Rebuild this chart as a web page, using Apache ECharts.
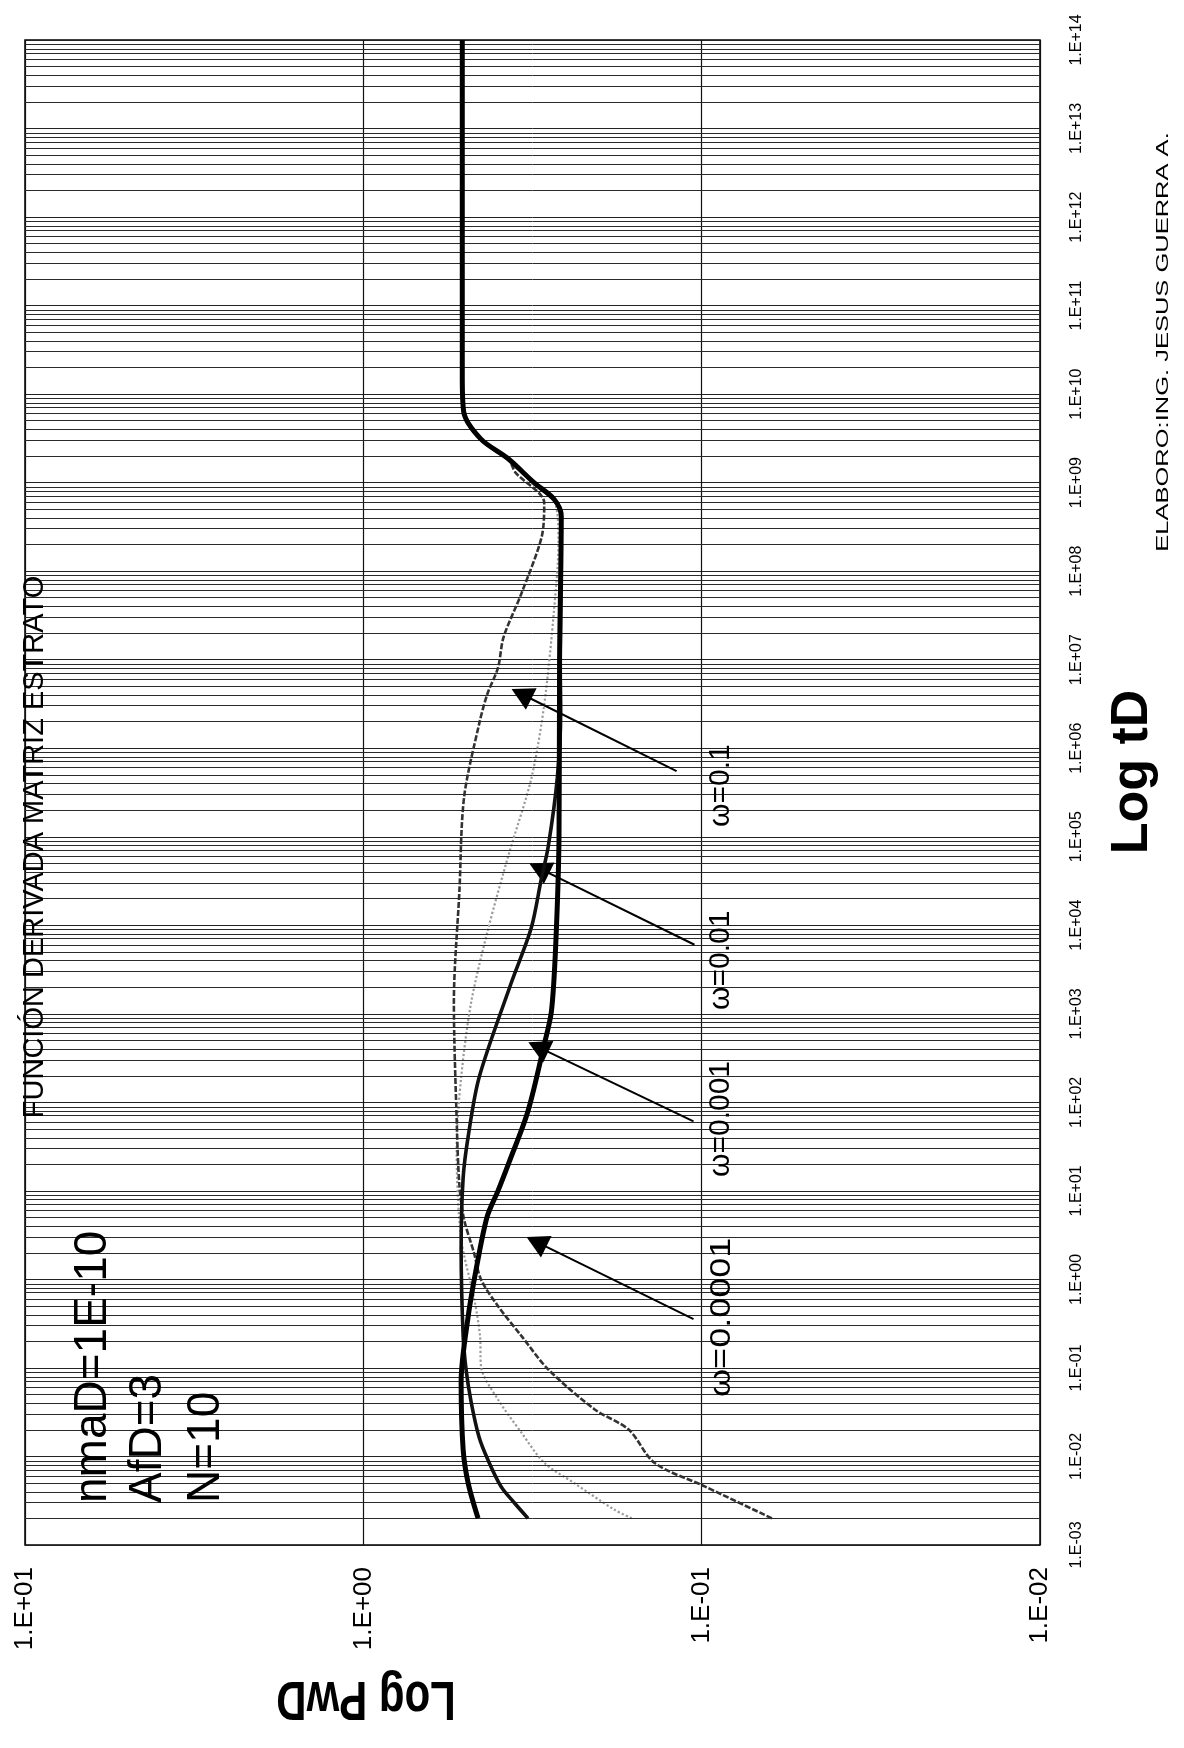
<!DOCTYPE html>
<html>
<head>
<meta charset="utf-8">
<script src="https://cdn.jsdelivr.net/npm/echarts@6/dist/echarts.min.js"></script>
<style>
html,body{margin:0;padding:0;background:#fff;}
#chart{width:1184px;height:1748px;}
</style>
</head>
<body>
<div id="chart"></div>
<script>
// ---- axis ranges (exponents) and tick labels ----
const PWD_MIN_EXP = -2, PWD_MAX_EXP = 1;
const TD_MIN_EXP = -3, TD_MAX_EXP = 14;
const pwdTickLabels = ['1.E-02', '1.E-01', '1.E+00', '1.E+01'];
const tdTickLabels = ['1.E-03', '1.E-02', '1.E-01', '1.E+00', '1.E+01', '1.E+02', '1.E+03', '1.E+04', '1.E+05',
  '1.E+06', '1.E+07', '1.E+08', '1.E+09', '1.E+10', '1.E+11', '1.E+12', '1.E+13', '1.E+14'];

// ---- curves: tD and PwD (derivative) values ----
const w0001_tD  = [0.002, 0.005, 0.012, 0.07, 0.38, 1.7, 5.2, 10, 21, 80, 450, 1070, 6000, 1e5, 1e7, 4.2e8, 6.5e8, 1e9, 1.86e9, 3.1e9, 6.3e9, 1.6e10, 1e14];
const w0001_PwD = [0.458, 0.49, 0.507, 0.514, 0.49, 0.458, 0.43, 0.40, 0.371, 0.326, 0.292, 0.278, 0.27, 0.264, 0.263, 0.26, 0.273, 0.313, 0.373, 0.449, 0.505, 0.51, 0.51];

const w001_tD  = [0.002, 0.003, 0.0046, 0.0091, 0.0166, 0.041, 0.096, 0.23, 2.2, 14, 41, 190, 2200, 9300, 33000, 78000, 4.7e5, 2.6e6, 1e7, 4.2e8, 6.5e8, 1e9, 1.86e9, 3.1e9, 6.3e9, 1.6e10, 1e14];
const w001_PwD = [0.326, 0.358, 0.392, 0.428, 0.455, 0.48, 0.497, 0.507, 0.514, 0.507, 0.49, 0.455, 0.366, 0.319, 0.298, 0.284, 0.267, 0.261, 0.262, 0.26, 0.273, 0.313, 0.373, 0.449, 0.505, 0.51, 0.51];

const w01_tD  = [0.002, 0.0025, 0.005, 0.0085, 0.0186, 0.044, 0.104, 0.23, 0.6, 2.9, 30, 190, 1350, 9300, 65000, 4.5e5, 3.1e6, 3.7e7, 2.1e8, 6.5e8, 1e9, 1.86e9, 3.1e9, 6.3e9, 1.6e10, 1e14];
const w01_PwD = [0.161, 0.181, 0.238, 0.292, 0.341, 0.40, 0.449, 0.452, 0.47, 0.514, 0.53, 0.514, 0.48, 0.427, 0.371, 0.319, 0.292, 0.273, 0.265, 0.273, 0.313, 0.373, 0.449, 0.505, 0.51, 0.51];

const w1_tD  = [0.002, 0.0046, 0.0085, 0.02, 0.034, 0.096, 0.23, 0.5, 1, 2.0, 4.8, 11.5, 66, 1350, 24500, 2.75e5, 1.86e6, 4.1e6, 8.1e6, 1.8e7, 5.6e7, 2.45e8, 5.9e8, 1.3e9, 1.86e9, 3.1e9, 6.3e9, 1.6e10, 1e14];
const w1_PwD = [0.062, 0.098, 0.138, 0.164, 0.207, 0.284, 0.341, 0.40, 0.449, 0.471, 0.504, 0.52, 0.53, 0.54, 0.52, 0.504, 0.455, 0.43, 0.40, 0.385, 0.341, 0.297, 0.292, 0.355, 0.373, 0.449, 0.505, 0.51, 0.51];

// ---- annotation arrows: [PwD, tD] of tail and head ----
const arrowTails = [[0.1057, 0.356], [0.1057, 61], [0.105, 6030], [0.1186, 5.5e5]];
const arrowHeads = [[0.308, 2.65], [0.304, 421], [0.302, 43900], [0.341, 4.1e6]];
const omegaLabels = ['\u03c9=0.0001', '\u03c9=0.001', '\u03c9=0.01', '\u03c9=0.1'];

const FONT = "'Liberation Sans', Arial, Helvetica, sans-serif";

const lg = Math.log10;
function toPts(td, pwd) { return td.map((t, i) => [lg(pwd[i]), lg(t)]); }

// minor log grid positions along tD
const minorLines = [];
for (let n = TD_MIN_EXP; n < TD_MAX_EXP; n++) {
  for (let k = 2; k <= 9; k++) minorLines.push({ yAxis: n + lg(k) });
}
const arrowData = arrowTails.map((t, i) => [
  { coord: [lg(t[0]), lg(t[1])] },
  { coord: [lg(arrowHeads[i][0]), lg(arrowHeads[i][1])] }
]);

const chart = echarts.init(document.getElementById('chart'), null, { renderer: 'canvas' });

function rotText(x, y, text, size, opts) {
  opts = opts || {};
  return {
    type: 'text', x: x, y: y, rotation: opts.rotation != null ? opts.rotation : Math.PI / 2,
    scaleX: opts.scaleX || 1, scaleY: opts.scaleY || 1, z: 100,
    style: {
      text: text, fill: '#000',
      font: (opts.bold ? 'bold ' : '') + size + 'px ' + FONT,
      textAlign: opts.align || 'center', textVerticalAlign: 'middle',
      align: opts.align || 'center', verticalAlign: 'middle'
    }
  };
}

const graphics = [
  rotText(35, 847, 'FUNCIÓN DERIVADA MATRIZ ESTRATO', 29),
  rotText(93, 1503, 'nmaD=1E-10', 46, { align: 'left' }),
  rotText(148, 1503, 'AfD=3', 46, { align: 'left' }),
  rotText(206, 1503, 'N=10', 46, { align: 'left' }),
  rotText(722, 1397, omegaLabels[0], 30, { align: 'left', scaleX: 1.2 }),
  rotText(721, 1177, omegaLabels[1], 30, { align: 'left' }),
  rotText(721, 1010, omegaLabels[2], 30, { align: 'left' }),
  rotText(721, 827, omegaLabels[3], 30, { align: 'left' }),
  rotText(366, 1697, 'Log PwD', 42, { bold: true, rotation: Math.PI, scaleY: 1.3 }),
  rotText(1133, 772, 'Log tD', 52, { bold: true }),
  rotText(1163, 342, 'ELABORO:ING. JESUS GUERRA A.', 17, { scaleX: 1.5 })
];

const option = {
  animation: false,
  backgroundColor: '#fff',
  grid: { left: 25, right: 144, top: 40, bottom: 203, show: true, borderColor: '#000', borderWidth: 1.5, backgroundColor: 'transparent' },
  xAxis: {
    type: 'value', min: PWD_MIN_EXP, max: PWD_MAX_EXP, interval: 1, inverse: true, position: 'bottom',
    axisLine: { show: false }, axisTick: { show: false },
    splitLine: { show: true, lineStyle: { color: '#111', width: 1.2 } },
    axisLabel: {
      rotate: 90, margin: 22, fontSize: 26, color: '#000', fontFamily: FONT,
      formatter: v => pwdTickLabels[Math.round(v) - PWD_MIN_EXP]
    }
  },
  yAxis: {
    type: 'value', min: TD_MIN_EXP, max: TD_MAX_EXP, interval: 1, position: 'right',
    axisLine: { show: false }, axisTick: { show: false },
    splitLine: { show: true, lineStyle: { color: '#222', width: 1 } },
    axisLabel: {
      rotate: 90, margin: 29, fontSize: 16, color: '#000', fontFamily: FONT,
      formatter: v => tdTickLabels[Math.round(v) - TD_MIN_EXP]
    }
  },
  series: [
    {
      name: '\u03c9=0.01', type: 'line', data: toPts(w01_tD, w01_PwD), smooth: 0.3, showSymbol: false, z: 3,
      lineStyle: { color: '#9a9a9a', width: 2.2, type: 'dotted' },
      markLine: { silent: true, symbol: 'none', animation: false, label: { show: false },
        lineStyle: { color: '#2a2a2a', width: 1, type: 'solid' }, data: minorLines }
    },
    {
      name: '\u03c9=0.1', type: 'line', data: toPts(w1_tD, w1_PwD), smooth: 0.3, showSymbol: false, z: 4,
      lineStyle: { color: '#333', width: 2.6, type: [6, 2] }
    },
    {
      name: '\u03c9=0.001', type: 'line', data: toPts(w001_tD, w001_PwD), smooth: 0.3, showSymbol: false, z: 5,
      lineStyle: { color: '#111', width: 3.6 }
    },
    {
      name: '\u03c9=0.0001', type: 'line', data: toPts(w0001_tD, w0001_PwD), smooth: 0.3, showSymbol: false, z: 6,
      lineStyle: { color: '#000', width: 5 },
      markLine: { silent: true, symbol: ['none', 'triangle'], symbolSize: [24, 22], animation: false,
        label: { show: false }, lineStyle: { color: '#000', width: 2, type: 'solid' }, data: arrowData }
    }
  ],
  graphic: graphics
};
chart.setOption(option);
</script>
</body>
</html>
